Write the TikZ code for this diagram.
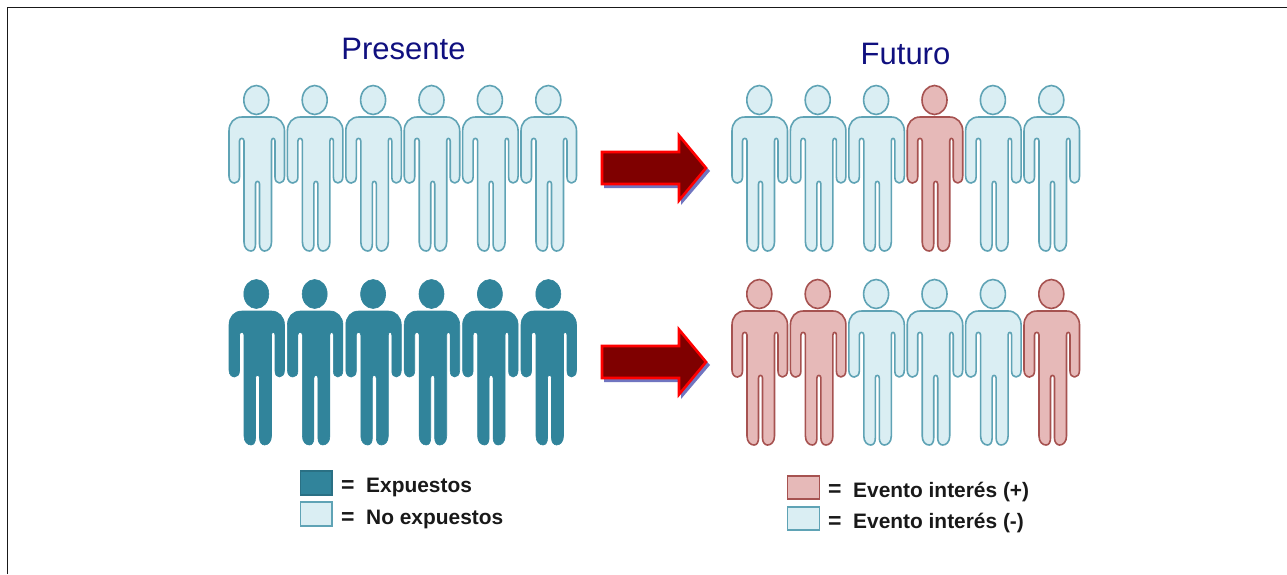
\documentclass[tikz,border=0pt]{standalone}
\usepackage{fontspec}
\setmainfont{Liberation Sans}
\definecolor{lightfill}{HTML}{DAEEF3}
\definecolor{lightline}{HTML}{5FA3B5}
\definecolor{darkfill}{HTML}{31849B}
\definecolor{pinkfill}{HTML}{E6B9B8}
\definecolor{pinkline}{HTML}{A65250}
\definecolor{arrowfill}{HTML}{7F0000}
\definecolor{arrowline}{HTML}{FF0000}
\definecolor{arrowshade}{HTML}{7075C0}
\definecolor{titleblue}{HTML}{10107F}
\tikzset{
  pers/.style={line width=1.6pt,line join=round},
  neutral/.style={pers,draw=lightline,fill=lightfill},
  dark/.style={line width=0.6pt,line join=round,draw=darkfill,fill=darkfill},
  pink/.style={pers,draw=pinkline,fill=pinkfill},
  titletext/.style={text=titleblue,inner sep=0pt,font=\fontsize{31}{31}\selectfont},
  legtext/.style={anchor=west,inner sep=0pt,font=\fontsize{20.9}{21}\selectfont\bfseries,text=black!90},
  legeq/.style={anchor=west,inner sep=0pt,font=\fontsize{23}{23}\selectfont\bfseries,text=black!90},
  legbox/.style={line width=1.3pt},
  bigarrow/.style={draw=arrowline,fill=arrowfill,line width=2.6pt,line join=miter}
}
% person: #1 x offset, #2 y offset, #3 style
\newcommand{\person}[3]{%
 \begin{scope}[shift={(#1,#2)}]
  \draw[#3] (27.3,15) ellipse [x radius=12.5,y radius=14.5];
  \draw[#3] (13,32)
    .. controls (5,32) and (0,38) .. (0,46)
    -- (0,91) .. controls (0,96) and (3,98) .. (5.5,98)
    .. controls (8,98) and (10.5,96) .. (10.5,92)
    -- (10.5,56) .. controls (10.5,52.5) and (15,52.5) .. (15,56)
    -- (15,157) .. controls (15,163) and (18.5,166) .. (22,166)
    .. controls (25,166) and (26.5,163) .. (26.5,159)
    -- (26.5,99) .. controls (26.5,95.5) and (30.5,95.5) .. (30.5,99)
    -- (30.5,159) .. controls (30.5,163) and (32.5,166) .. (35.5,166)
    .. controls (39,166) and (42.5,163) .. (42.5,157)
    -- (42.5,56) .. controls (42.5,52.5) and (46,52.5) .. (46,56)
    -- (46,92) .. controls (46,96) and (48,98) .. (50.5,98)
    .. controls (53,98) and (55.5,96) .. (55.5,91)
    -- (55.5,46) .. controls (55.5,38) and (50,32) .. (42.5,32) -- cycle;
 \end{scope}}
% arrow: #1 y offset
\newcommand{\redarrow}[1]{%
 \begin{scope}[shift={(0,#1)}]
  \fill[arrowshade] (604,155) -- (681,155) -- (681,139) -- (710,171) -- (681,205) -- (681,188) -- (604,188) -- cycle;
  \draw[bigarrow] (602,152) -- (679,152) -- (679,135.5) -- (706,168) -- (679,200.5) -- (679,184) -- (602,184) -- cycle;
 \end{scope}}
\begin{document}
\begin{tikzpicture}[x=1pt,y=-1pt]
\useasboundingbox (0,0) rectangle (1287,574);
\fill[white] (0,0) rectangle (1287,574);
\draw[black!90,line width=1.3pt] (7.5,574) -- (7.5,7.5) -- (1287,7.5);
\node[titletext] (tp) at (403.5,49) {Presente};
\node[titletext] (tf) at (905.5,54) {Futuro};
% rows
\foreach \x in {0,1,2,3,4,5} {
  \pgfmathsetmacro{\px}{229+58.4*\x}
  \person{\px}{85}{neutral}
  \person{\px}{279}{dark}
}
\foreach \x/\s in {0/neutral,1/neutral,2/neutral,3/pink,4/neutral,5/neutral} {
  \pgfmathsetmacro{\px}{732+58.4*\x}
  \person{\px}{85}{\s}
}
\foreach \x/\s in {0/pink,1/pink,2/neutral,3/neutral,4/neutral,5/pink} {
  \pgfmathsetmacro{\px}{732+58.4*\x}
  \person{\px}{279}{\s}
}
\redarrow{0}
\redarrow{194}
% legends
\draw[legbox,draw=darkfill!85!black,fill=darkfill] (300.5,471) rectangle (332,495);
\draw[legbox,draw=lightline,fill=lightfill] (300.5,502) rectangle (332,526);
\node[legeq] (e1) at (341,486.5) {=};
\node[legeq] (e2) at (341,518.5) {=};
\node[legtext] (l1) at (366,487.5) {Expuestos};
\node[legtext] (l2) at (366,519) {No expuestos};
\draw[legbox,draw=pinkline,fill=pinkfill] (787.5,476) rectangle (819.5,499);
\draw[legbox,draw=lightline,fill=lightfill] (787.5,507) rectangle (819.5,530);
\node[legeq] (e3) at (828,490.5) {=};
\node[legeq] (e4) at (828,522.5) {=};
\node[legtext] (l3) at (853,491.5) {Evento interés (+)};
\node[legtext] (l4) at (853,523) {Evento interés (-)};
\end{tikzpicture}
\end{document}
